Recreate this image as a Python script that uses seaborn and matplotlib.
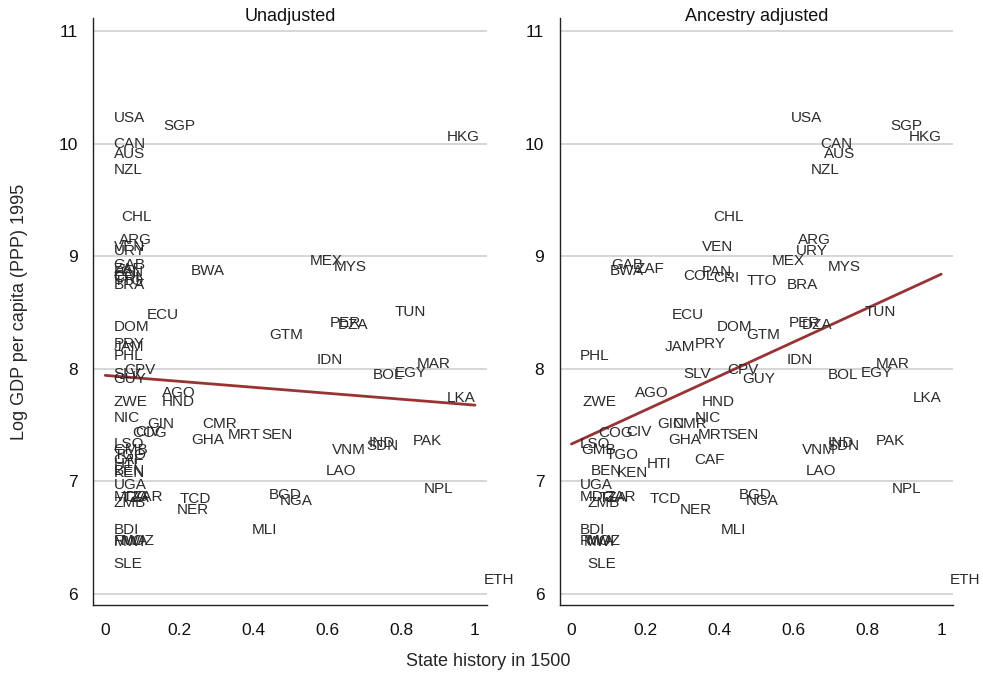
import numpy as np
import pandas as pd
import matplotlib
matplotlib.use("Agg")
import matplotlib.pyplot as plt
import seaborn as sns

# country codes
codes = ["USA", "SGP", "HKG", "CAN", "AUS", "NZL", "CHL", "ARG", "VEN", "URY",
         "MEX", "MYS", "GAB", "BWA", "ZAF", "PAN", "COL", "CRI", "TTO", "BRA",
         "ECU", "DOM", "GTM", "PER", "DZA", "TUN", "JAM", "PRY", "PHL", "IDN",
         "MAR", "EGY", "BOL", "SLV", "CPV", "GUY", "AGO", "ZWE", "HND", "LKA",
         "NIC", "GIN", "CMR", "CIV", "COG", "GHA", "MRT", "SEN", "LSO", "GMB",
         "TGO", "CAF", "HTI", "BEN", "KEN", "UGA", "VNM", "SDN", "IND", "PAK",
         "LAO", "NPL", "MDG", "ZMB", "TZA", "ZAR", "TCD", "NER", "BGD", "NGA",
         "MLI", "BDI", "RWA", "MOZ", "MWI", "SLE", "ETH"]

# state history in 1500, unadjusted
state_hist = [0.0, 0.135, 0.90, 0.0, 0.0, 0.0, 0.02, 0.015, 0.0, 0.0,
              0.53, 0.595, 0.0, 0.21, 0.0, 0.0, 0.0, 0.0, 0.0, 0.0,
              0.09, 0.0, 0.42, 0.585, 0.605, 0.76, 0.0, 0.0, 0.0, 0.55,
              0.82, 0.76, 0.70, 0.0, 0.03, 0.0, 0.13, 0.0, 0.13, 0.90,
              0.0, 0.09, 0.24, 0.06, 0.05, 0.21, 0.31, 0.40, 0.0, 0.0,
              0.0, 0.0, 0.0, 0.0, 0.0, 0.0, 0.59, 0.685, 0.69, 0.81,
              0.575, 0.84, 0.0, 0.0, 0.02, 0.05, 0.18, 0.17, 0.42, 0.45,
              0.375, 0.0, 0.0, 0.02, 0.0, 0.0, 1.0]

# state history in 1500, ancestry adjusted
state_hist_adj = [0.57, 0.84, 0.89, 0.65, 0.66, 0.625, 0.36, 0.59, 0.33, 0.585,
                  0.52, 0.67, 0.084, 0.08, 0.15, 0.33, 0.28, 0.36, 0.45, 0.56,
                  0.25, 0.37, 0.45, 0.565, 0.60, 0.77, 0.23, 0.31, 0.0, 0.56,
                  0.80, 0.76, 0.67, 0.28, 0.40, 0.44, 0.15, 0.008, 0.33, 0.90,
                  0.31, 0.21, 0.25, 0.125, 0.05, 0.24, 0.32, 0.40, 0.0, 0.005,
                  0.07, 0.31, 0.18, 0.03, 0.10, 0.0, 0.60, 0.67, 0.67, 0.80,
                  0.61, 0.845, 0.0, 0.02, 0.05, 0.07, 0.19, 0.27, 0.43, 0.45,
                  0.38, 0.0, 0.0, 0.02, 0.01, 0.02, 1.0]

# log GDP per capita (PPP) 1995
log_gdp = [10.23, 10.16, 10.06, 10.00, 9.91, 9.77, 9.35, 9.14, 9.08, 9.05,
           8.96, 8.90, 8.92, 8.87, 8.89, 8.86, 8.82, 8.81, 8.78, 8.74,
           8.48, 8.37, 8.30, 8.41, 8.39, 8.50, 8.19, 8.22, 8.11, 8.08,
           8.04, 7.96, 7.94, 7.95, 7.99, 7.91, 7.78, 7.70, 7.70, 7.74,
           7.56, 7.51, 7.51, 7.44, 7.43, 7.37, 7.41, 7.41, 7.33, 7.28,
           7.23, 7.19, 7.15, 7.09, 7.07, 6.97, 7.28, 7.31, 7.34, 7.36,
           7.09, 6.93, 6.86, 6.81, 6.85, 6.86, 6.84, 6.74, 6.88, 6.82,
           6.57, 6.57, 6.47, 6.47, 6.46, 6.26, 6.12]

panels = ["Unadjusted", "Ancestry adjusted"]
x_ticks = [0, 0.2, 0.4, 0.6, 0.8, 1]
x_ticklabels = ["0", "0.2", "0.4", "0.6", "0.8", "1"]
y_ticks = [6, 7, 8, 9, 10, 11]

df = pd.DataFrame({"code": codes, "Unadjusted": state_hist,
                   "Ancestry adjusted": state_hist_adj, "gdp": log_gdp})

sns.set_style("white")
plt.rcParams["font.family"] = ["Liberation Sans", "DejaVu Sans"]

fig, axes = plt.subplots(1, 2, figsize=(9.83, 6.74), dpi=100)
fig.subplots_adjust(left=0.095, right=0.9695, bottom=0.1024, top=0.973, wspace=0.185)

text_col = "#2b2b2b"
for ax, col in zip(axes, panels):
    ax.set_xlim(-0.032, 1.032)
    ax.set_ylim(5.9, 11.115)
    ax.set_yticks(y_ticks)
    ax.set_yticklabels([str(t) for t in y_ticks])
    ax.set_xticks(x_ticks)
    ax.set_xticklabels(x_ticklabels)
    ax.grid(axis="y", color="#d0d0d0", linewidth=1.2)
    ax.set_axisbelow(True)
    for s in ["top", "right"]:
        ax.spines[s].set_visible(False)
    for s in ["left", "bottom"]:
        ax.spines[s].set_color("#222222")
        ax.spines[s].set_linewidth(1.0)
    ax.tick_params(axis="both", direction="out", length=6, width=1,
                   color="#222222", labelsize=12.5, labelcolor="#111111")
    ax.tick_params(axis="y", pad=5)
    ax.tick_params(axis="x", length=8, pad=5)

    # country labels in place of markers
    for _, r in df.iterrows():
        ax.annotate(r["code"], (r[col], r["gdp"]), xytext=(6, 0),
                    textcoords="offset points", ha="left", va="center",
                    fontsize=11, color=text_col, annotation_clip=False)

    sns.regplot(data=df, x=col, y="gdp", scatter=False, ci=None, ax=ax,
                line_kws={"color": "#993333", "linewidth": 2})
    ax.set_title(col, fontsize=13, pad=-2, color="#111111")
    ax.set_xlabel("")
    ax.set_ylabel("")

axes[0].set_ylabel("Log GDP per capita (PPP) 1995", fontsize=13, labelpad=22)
fig.text(0.497, 0.018, "State history in 1500", ha="center", va="center", fontsize=13)

fig.savefig("out.png", dpi=100)
